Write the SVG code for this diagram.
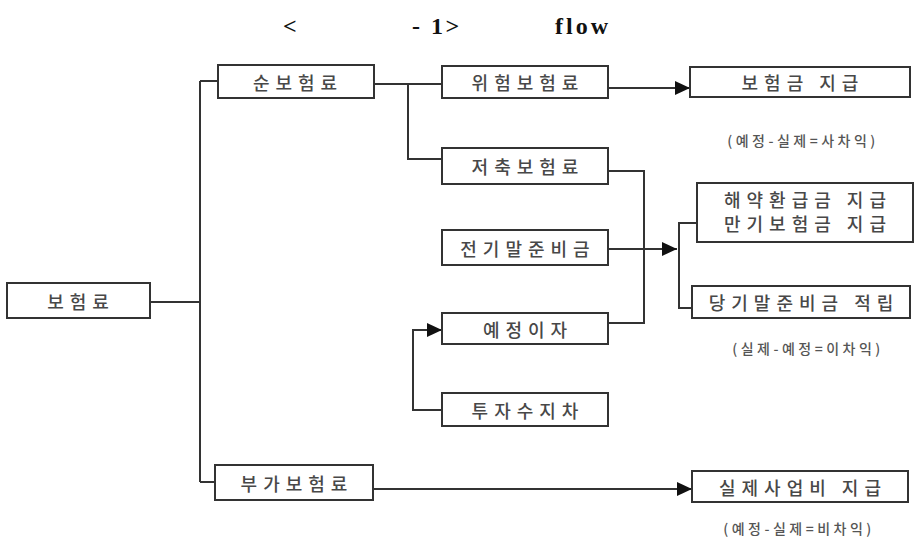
<svg xmlns="http://www.w3.org/2000/svg" width="916" height="545" viewBox="0 0 916 545">
<defs>
<style>
.box{fill:#fff;stroke:#333;stroke-width:2}
.t{font-family:"Noto Sans CJK KR","Noto Sans",sans-serif;font-size:18px;font-weight:500;fill:#484848;text-anchor:middle;dominant-baseline:central;letter-spacing:6px}
.s{font-family:"Noto Sans CJK KR","Noto Sans",sans-serif;font-size:14px;font-weight:500;fill:#555;text-anchor:middle;dominant-baseline:central;letter-spacing:3.5px}
.ttl{font-family:"Liberation Serif",serif;font-size:24px;font-weight:bold;fill:#111}
.c{fill:none;stroke:#333;stroke-width:2}
</style>
<marker id="arr" markerUnits="userSpaceOnUse" markerWidth="16" markerHeight="14" refX="15" refY="7" orient="auto">
<path d="M0,0 L15,7 L0,14 Z" fill="#111"/>
</marker>
</defs>
<rect width="916" height="545" fill="#fff"/>
<g id="title">
<text class="ttl" x="283" y="34">&lt;</text>
<text class="ttl" x="412" y="34" letter-spacing="2.5">- 1&gt;</text>
<text class="ttl" x="555" y="34" letter-spacing="3">flow</text>
</g>
<g id="connectors">
<path class="c" d="M150,302 H200 M200,81 V482 M200,81 H218 M200,482 H215"/>
<path class="c" d="M374,84 H442 M408,84 V159 H442"/>
<path class="c" d="M608,88 H690" marker-end="url(#arr)"/>
<path class="c" d="M608,171 H644 V323 H608"/>
<path class="c" d="M608,249 H677" marker-end="url(#arr)"/>
<path class="c" d="M697,223 H679 V308 H692"/>
<path class="c" d="M442,410 H413 V330 H442" marker-end="url(#arr)"/>
<path class="c" d="M373,489 H692" marker-end="url(#arr)"/>
</g>
<g id="n_bohumryo"><rect class="box" x="7" y="283" width="143" height="35"/><text class="t" x="81" y="301">보험료</text></g>
<g id="n_sun"><rect class="box" x="218" y="65" width="156" height="33"/><text class="t" x="298" y="82">순보험료</text></g>
<g id="n_wiheom"><rect class="box" x="442" y="66" width="166" height="32"/><text class="t" x="528" y="82">위험보험료</text></g>
<g id="n_jeochuk"><rect class="box" x="442" y="148" width="166" height="36"/><text class="t" x="528" y="166">저축보험료</text></g>
<g id="n_jeongi"><rect class="box" x="442" y="230" width="166" height="35"/><text class="t" x="528" y="248">전기말준비금</text></g>
<g id="n_yejeong"><rect class="box" x="442" y="313" width="166" height="31"/><text class="t" x="528" y="329">예정이자</text></g>
<g id="n_tuja"><rect class="box" x="442" y="393" width="166" height="33"/><text class="t" x="528" y="410">투자수지차</text></g>
<g id="n_buga"><rect class="box" x="215" y="465" width="158" height="35"/><text class="t" x="297" y="483">부가보험료</text></g>
<g id="n_bohumgeum"><rect class="box" x="690" y="67" width="220" height="30"/><text class="t" x="803" y="82">보험금 지급</text>
<text class="s" x="803" y="140">(예정-실제=사차익)</text></g>
<g id="n_haeyak"><rect class="box" x="697" y="183" width="216" height="59"/><text class="t" x="808" y="199">해약환급금 지급</text><text class="t" x="808" y="223">만기보험금 지급</text></g>
<g id="n_dangi"><rect class="box" x="692" y="286" width="218" height="32"/><text class="t" x="804" y="302">당기말준비금 적립</text>
<text class="s" x="808" y="348">(실제-예정=이차익)</text></g>
<g id="n_silje"><rect class="box" x="692" y="471" width="216" height="31"/><text class="t" x="803" y="487">실제사업비 지급</text>
<text class="s" x="799" y="528">(예정-실제=비차익)</text></g>
</svg>
